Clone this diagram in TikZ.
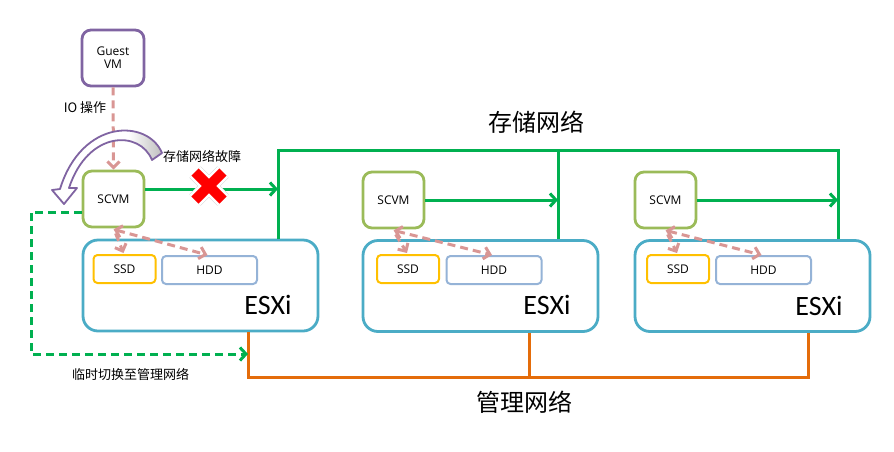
\documentclass[tikz,border=0pt]{standalone}
\usepackage{fontspec}
\setmainfont{Open Sans}
\newfontfamily\cjk{Noto Sans CJK SC}
\newfontfamily\calib{Carlito}
\usetikzlibrary{arrows.meta,calc}
\definecolor{cpurple}{HTML}{8064A2}
\definecolor{colive}{HTML}{9BBB59}
\definecolor{cblue}{HTML}{4BACC6}
\definecolor{cyellow}{HTML}{FFC000}
\definecolor{clblue}{HTML}{95B3D7}
\definecolor{cgreen}{HTML}{00B050}
\definecolor{corange}{HTML}{E46C0A}
\definecolor{cpink}{HTML}{D99694}
\begin{document}
\begin{tikzpicture}[x=1pt,y=-1pt,
  box/.style={draw, line width=2.8pt, fill=white, inner sep=0pt, align=center, font=\fontsize{12}{13}\selectfont},
  gvmbox/.style={box, draw=cpurple, rounded corners=9pt, minimum width=62pt, minimum height=56pt},
  scvmbox/.style={box, draw=colive, rounded corners=9pt, minimum width=61pt, minimum height=56pt},
  esxibox/.style={draw=cblue, line width=2.8pt, fill=white, rounded corners=15pt, minimum width=235pt, minimum height=91pt, inner sep=0pt},
  ssdbox/.style={box, draw=cyellow, line width=2pt, rounded corners=4pt, minimum width=62pt, minimum height=28pt},
  hddbox/.style={box, draw=clblue, line width=2pt, rounded corners=4pt, minimum width=95pt, minimum height=28pt},
  esxilabel/.style={font=\calib\fontsize{28}{30}\selectfont, inner sep=0pt},
  cjklabel/.style={font=\cjk\fontsize{13}{15}\selectfont, inner sep=0pt},
  titlelabel/.style={font=\cjk\fontsize{24}{26}\selectfont, inner sep=0pt},
  gline/.style={draw=cgreen, line width=3pt},
  garrow/.style={gline, -{Straight Barb[length=6pt,width=13pt]}},
  oline/.style={draw=corange, line width=3pt},
  pline/.style={draw=cpink, line width=3pt, dash pattern=on 8pt off 5pt},
  parrow/.style={pline, -{Straight Barb[length=6pt,width=12pt]}},
  dgreen/.style={draw=cgreen, line width=3pt, dash pattern=on 8pt off 5pt, -{Straight Barb[length=6pt,width=13pt]}}
]
\useasboundingbox (0,0) rectangle (894,451);

% ESXi hosts
\node[esxibox] (esxi1) at (200.5,285.5) {};
\node[esxibox] (esxi2) at (480.5,286) {};
\node[esxibox] (esxi3) at (752.5,286) {};
\node[esxilabel] (el1) at (268,305) {ESXi};
\node[esxilabel] (el2) at (547,305) {ESXi};
\node[esxilabel] (el3) at (819,306) {ESXi};

\node[ssdbox] (ssd1) at (124.5,269) {SSD};
\node[hddbox] (hdd1) at (209.5,270) {HDD};
\node[ssdbox] (ssd2) at (408,269) {SSD};
\node[hddbox] (hdd2) at (494,270) {HDD};
\node[ssdbox] (ssd3) at (678,269) {SSD};
\node[hddbox] (hdd3) at (763.5,270) {HDD};

% VMs
\node[gvmbox] (gvm) at (113,58) {Guest\\VM};
\node[scvmbox] (scvm1) at (113.5,199) {SCVM};
\node[scvmbox] (scvm2) at (393.5,200) {SCVM};
\node[scvmbox] (scvm3) at (665.5,200) {SCVM};

% storage network
\coordinate (g1) at (278,150);
\coordinate (g2) at (558,150);
\coordinate (g3) at (838,150);
\draw[gline] (g1 |- esxi1.north) -- (g1) -- (g3) -- (g3 |- esxi3.north);
\draw[gline] (g2) -- (g2 |- esxi2.north);
\draw[garrow] (scvm1.east |- 0,189) -- (g1 |- 0,189);
\draw[garrow] (scvm2.east) -- (g2 |- scvm2.east);
\draw[garrow] (scvm3.east) -- (g3 |- scvm3.east);

% management network
\coordinate (o1) at (248,377);
\coordinate (o2) at (529,377);
\coordinate (o3) at (808,377);
\draw[oline] (o1 |- esxi1.south) -- (o1) -- (o3) -- (o3 |- esxi3.south);
\draw[oline] (o2 |- esxi2.south) -- (o2);

% failover path
\coordinate (d1) at (31,212);
\coordinate (d2) at (31,354);
\draw[dgreen] (scvm1.west |- d1) -- (d1) -- (d2) -- (o1 |- d2);

% IO
\draw[parrow] (gvm.south) -- (scvm1.north);
\foreach \i in {1,2,3} {
  \draw[parrow,{Straight Barb[length=6pt,width=12pt]}-{Straight Barb[length=6pt,width=12pt]}] ($(scvm\i.south west)+(32,1)$) -- ([xshift=-2pt]hdd\i.north);
  \draw[parrow] ($(scvm\i.south west)+(34,5)$) -- ([xshift=-1pt,yshift=1pt]ssd\i.north);
}

% curved failure arrow
\begin{scope}
  \path[clip] (162,153) .. controls (148,119) and (82,118) .. (60,189) -- (52,190) -- (64,204) -- (77,188) -- (69,188) .. controls (88,130) and (140,130) .. (152,160) -- cycle;
  \fill[white] (40,110) rectangle (170,210);
  \shade[left color=white, right color=gray!55] (128,110) rectangle (165,170);
\end{scope}
\draw[cpurple, line width=1.8pt, line join=round] (162,153) .. controls (148,119) and (82,118) .. (60,189) -- (52,190) -- (64,204) -- (77,188) -- (69,188) .. controls (88,130) and (140,130) .. (152,160) -- cycle;

% red cross
\coordinate (xc) at (209,186);
\begin{scope}[shift={(2,3)}]
  \draw[gray!30, line width=16pt] ($(xc)+(-14,-14)$) -- ($(xc)+(14,14)$);
  \draw[gray!30, line width=16pt] ($(xc)+(14,-14)$) -- ($(xc)+(-14,14)$);
\end{scope}
\draw[white, line width=15pt] ($(xc)+(-14,-14)$) -- ($(xc)+(14,14)$);
\draw[white, line width=15pt] ($(xc)+(14,-14)$) -- ($(xc)+(-14,14)$);
\draw[red, line width=10pt] ($(xc)+(-14,-14)$) -- ($(xc)+(14,14)$);
\draw[red, line width=10pt] ($(xc)+(14,-14)$) -- ($(xc)+(-14,14)$);

% labels
\node[cjklabel] (io) at (85,108) {IO 操作};
\node[cjklabel, anchor=west] (fail) at (163,156) {存储网络故障};
\node[cjklabel, anchor=west] (sw) at (72,374) {临时切换至管理网络};
\node[titlelabel] (stor) at (536,122) {存储网络};
\node[titlelabel] (mgmt) at (524,402) {管理网络};
\end{tikzpicture}
\end{document}
